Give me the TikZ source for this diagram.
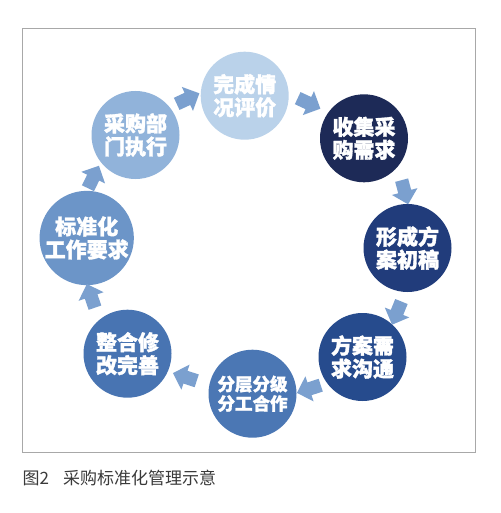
\documentclass[tikz,border=0pt]{standalone}
\usepackage{fontspec}
\newfontfamily\cjk{Noto Sans CJK SC}[BoldFeatures={FakeBold=1.5}]
\newfontfamily\cjkcap{Noto Sans CJK SC}
\usetikzlibrary{shapes.arrows}
\definecolor{framec}{HTML}{A8A8A8}
\definecolor{arrowc}{HTML}{7BA0CF}
\definecolor{cA}{HTML}{BAD2EA}
\definecolor{cB}{HTML}{1D2A57}
\definecolor{cC}{HTML}{213C7B}
\definecolor{cD}{HTML}{264B8D}
\definecolor{cE}{HTML}{4B77B4}
\definecolor{cF}{HTML}{4874B2}
\definecolor{cG}{HTML}{6C95C8}
\definecolor{cH}{HTML}{91B3DA}
\definecolor{captc}{HTML}{3A3A3A}
\newcommand{\shaftbox}{\rule{0pt}{13pt}}
\begin{document}
\begin{tikzpicture}[x=1pt,y=-1pt,
  circ/.style={circle, minimum size=88pt, inner sep=0pt, text=white, align=center,
    font=\cjk\bfseries\fontsize{21}{23}\selectfont},
  arr/.style={single arrow, fill=arrowc, minimum height=25pt,
    single arrow head extend=6.5pt, single arrow tip angle=90, inner sep=0pt}]
\useasboundingbox (0,0) rectangle (500,513);
\fill[white] (0,0) rectangle (500,513);
\draw[framec, line width=1pt] (22.7,28.3) rectangle (475,452);

\node[circ, fill=cA] (c1) at (244.7,95.7) {完成情\\况评价};
\node[circ, fill=cB] (c2) at (364,138.3) {收集采\\购需求};
\node[circ, fill=cC] (c3) at (407.5,248) {形成方\\案初稿};
\node[circ, fill=cD] (c4) at (362.5,357) {方案需\\求沟通};
\node[circ, fill=cE, font=\cjk\bfseries\fontsize{17.5}{19.5}\selectfont] (c5) at (252.5,393.7) {分层分级\\分工合作};
\node[circ, fill=cF] (c6) at (127.5,353.7) {整合修\\改完善};
\node[circ, fill=cG] (c7) at (86.7,238) {标准化\\工作要求};
\node[circ, fill=cH] (c8) at (135.5,135) {采购部\\门执行};

\node[arr, rotate=64] (a78) at (92,180) {\shaftbox};
\node[arr, rotate=25] (a81) at (185,100) {\shaftbox};
\node[arr, rotate=-25] (a12) at (306,102) {\shaftbox};
\node[arr, rotate=-75] (a23) at (404,189) {\shaftbox};
\node[arr, rotate=-112] (a34) at (398,310) {\shaftbox};
\node[arr, rotate=-162] (a45) at (312,388) {\shaftbox};
\node[arr, rotate=162] (a56) at (188,378) {\shaftbox};
\node[arr, rotate=109] (a67) at (92,299) {\shaftbox};

\node[anchor=west, inner sep=0pt, text=captc, font=\cjkcap\fontsize{17}{17}\selectfont] (cap) at (22.5,478) {图2\hspace{14pt}采购标准化管理示意};
\end{tikzpicture}
\end{document}
